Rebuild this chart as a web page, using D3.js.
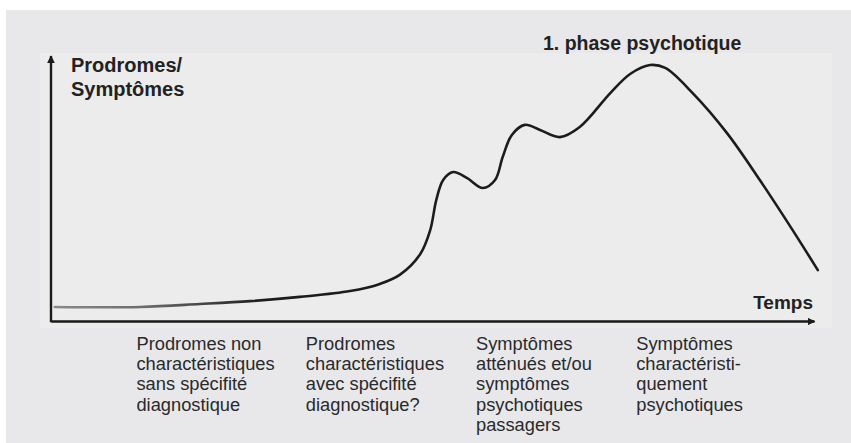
<!DOCTYPE html>
<html>
<head>
<meta charset="utf-8">
<script src="https://cdn.jsdelivr.net/npm/d3@7"></script>
<style>
  html, body { margin: 0; padding: 0; background: #ffffff; }
  svg { display: block; }
</style>
</head>
<body>
<svg id="chart" width="851" height="443"></svg>
<script>
// ---- Data (time in arbitrary units 0–100, symptom level 0–100) ----
const timeValues = [0.5, 11.7, 19.5, 26.1, 32.6, 39.2, 43.1, 45.7, 48.4, 49.7, 50.5, 51.4, 52.7, 54.5, 56.6, 58.2, 59.2, 60.4, 62.1, 64.1, 66.7, 69.3, 73.3, 75.9, 78.5, 80.5, 84.1, 88.6, 92.9, 97.2, 100.5];
const symptomValues = [5.3, 5.3, 6.4, 7.5, 9.1, 11.3, 14.0, 17.4, 25.3, 34.3, 45.7, 53.2, 56.2, 54.0, 50.2, 53.2, 61.9, 70.2, 74.0, 72.1, 69.4, 73.2, 86.0, 93.2, 96.6, 95.5, 86.0, 70.9, 53.2, 34.3, 19.2];

const yAxisLabel = ["Prodromes/", "Symptômes"];
const xAxisLabel = "Temps";
const peakLabel = "1. phase psychotique";
const stageLabels = [
  ["Prodromes non", "charactéristiques", "sans spécifité", "diagnostique"],
  ["Prodromes", "charactéristiques", "avec spécifité", "diagnostique?"],
  ["Symptômes", "atténués et/ou", "symptômes", "psychotiques", "passagers"],
  ["Symptômes", "charactéristi-", "quement", "psychotiques"]
];
const stageStarts = [11.2, 33.4, 55.7, 76.7]; // time position of each stage label

// ---- Layout ----
const svg = d3.select("#chart");
const W = 851, H = 443;
const font = "'Liberation Sans', Arial, Helvetica, sans-serif";

const x = d3.scaleLinear().domain([0, 100]).range([51, 814]);
const y = d3.scaleLinear().domain([0, 100]).range([321, 56]);

// backgrounds
svg.append("rect").attr("x", 6).attr("y", 10).attr("width", W - 6).attr("height", H - 10).attr("fill", "#e8e8ea");
svg.append("rect").attr("x", 40).attr("y", 53).attr("width", 792).attr("height", 275).attr("fill", "#ececec");

const defs = svg.append("defs");
defs.append("marker")
  .attr("id", "arrow")
  .attr("viewBox", "0 0 10 10")
  .attr("refX", 9).attr("refY", 5)
  .attr("markerWidth", 3.2).attr("markerHeight", 3.2)
  .attr("markerUnits", "strokeWidth")
  .attr("orient", "auto")
  .append("path").attr("d", "M0,0 L10,5 L0,10 Z").attr("fill", "#1a1a1a");

const grad = defs.append("linearGradient")
  .attr("id", "lineGrad").attr("gradientUnits", "userSpaceOnUse")
  .attr("x1", x(0)).attr("x2", x(28)).attr("y1", 0).attr("y2", 0);
grad.append("stop").attr("offset", "0%").attr("stop-color", "#8c8c8c");
grad.append("stop").attr("offset", "45%").attr("stop-color", "#6a6a6a");
grad.append("stop").attr("offset", "100%").attr("stop-color", "#1c1c1c");

// axes (no ticks)
const xAxis = svg.append("g").attr("transform", `translate(0,${y(0)})`)
  .call(d3.axisBottom(x).tickValues([]).tickSizeOuter(0));
xAxis.select(".domain").attr("stroke", "#1a1a1a").attr("stroke-width", 2.4).attr("marker-end", "url(#arrow)");

const yAxis = svg.append("g").attr("transform", `translate(${x(0)},0)`)
  .call(d3.axisLeft(y).tickValues([]).tickSizeOuter(0));
// redraw y domain bottom-to-top so the arrow points up
yAxis.select(".domain").attr("d", `M0,${y(0) + 1.2}V${y(100)}`)
  .attr("stroke", "#1a1a1a").attr("stroke-width", 2.4).attr("marker-end", "url(#arrow)");

// curve
const data = timeValues.map((t, i) => ({ t, v: symptomValues[i] }));
const line = d3.line()
  .x(d => x(d.t)).y(d => y(d.v))
  .curve(d3.curveCatmullRom.alpha(0.5));
svg.append("path").datum(data)
  .attr("d", line)
  .attr("fill", "none")
  .attr("stroke", "url(#lineGrad)")
  .attr("stroke-width", 2.6)
  .attr("stroke-linecap", "round")
  .attr("stroke-linejoin", "round");

// labels
const yl = svg.append("text").attr("x", 71).attr("y", 72)
  .attr("font-family", font).attr("font-size", 20).attr("font-weight", "bold").attr("fill", "#222");
yAxisLabel.forEach((s, i) => yl.append("tspan").attr("x", 71).attr("dy", i === 0 ? 0 : 24).text(s));

svg.append("text").attr("x", 543).attr("y", 50)
  .attr("font-family", font).attr("font-size", 19.5).attr("font-weight", "bold").attr("fill", "#222")
  .text(peakLabel);

svg.append("text").attr("x", 813).attr("y", 309).attr("text-anchor", "end")
  .attr("font-family", font).attr("font-size", 19).attr("font-weight", "bold").attr("fill", "#222")
  .text(xAxisLabel);

stageLabels.forEach((lines, k) => {
  const tx = x(stageStarts[k]);
  const t = svg.append("text").attr("x", tx).attr("y", 350)
    .attr("font-family", font).attr("font-size", 18.3).attr("fill", "#2a2a2a");
  lines.forEach((s, i) => t.append("tspan").attr("x", tx).attr("dy", i === 0 ? 0 : 20.2).text(s));
});
</script>
</body>
</html>
